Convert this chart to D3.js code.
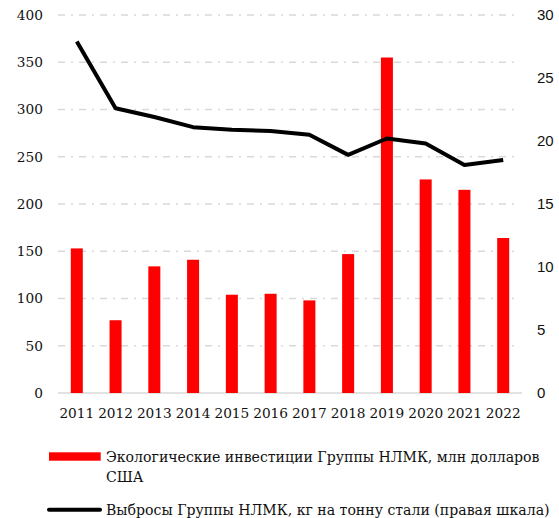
<!DOCTYPE html>
<html>
<head>
<meta charset="utf-8">
<script src="https://cdn.jsdelivr.net/npm/d3@7"></script>
<style>
  body { margin: 0; background: #fff; }
  svg { display: block; }
</style>
</head>
<body>
<svg id="chart"></svg>
<script>
const years = ['2011', '2012', '2013', '2014', '2015', '2016', '2017', '2018', '2019', '2020', '2021', '2022'];
const investments = [153, 77, 134, 141, 104, 105, 98, 147, 355, 226, 215, 164];
const emissions = [27.9, 22.6, 21.9, 21.1, 20.9, 20.8, 20.5, 18.9, 20.2, 19.8, 18.1, 18.5];
const leftTicks = [0, 50, 100, 150, 200, 250, 300, 350, 400];
const rightTicks = [0, 5, 10, 15, 20, 25, 30];
const barLabel = ['Экологические инвестиции Группы НЛМК, млн долларов', 'США'];
const lineLabel = 'Выбросы Группы НЛМК, кг на тонну стали (правая шкала)';

const chart_width = 559, chart_height = 518;
const plotLeft = 58, plotRight = 522, plotTop = 15, plotBottom = 393;
const textColor = '#111';

const svg = d3.select('#chart')
    .attr('width', chart_width)
    .attr('height', chart_height);

const x = d3.scaleBand()
    .domain(years)
    .range([plotLeft, plotRight])
    .paddingInner(0.69)
    .paddingOuter(0.33);

const yLeft = d3.scaleLinear().domain([0, 400]).range([plotBottom, plotTop]);
const yRight = d3.scaleLinear().domain([0, 30]).range([plotBottom, plotTop]);

// grid
svg.append('g')
    .selectAll('line')
    .data(leftTicks.filter(d => d > 0))
    .enter()
    .append('line')
    .attr('x1', plotLeft)
    .attr('x2', plotRight - 6)
    .attr('y1', d => yLeft(d))
    .attr('y2', d => yLeft(d))
    .attr('stroke', '#d9d9d9')
    .attr('stroke-width', 1.5)
    .attr('stroke-dasharray', '7,6,2,6');

svg.append('line')
    .attr('x1', plotLeft)
    .attr('x2', plotRight)
    .attr('y1', yLeft(0))
    .attr('y2', yLeft(0))
    .attr('stroke', '#d9d9d9')
    .attr('stroke-width', 1.5);

// bars
svg.append('g')
    .selectAll('rect')
    .data(investments)
    .enter()
    .append('rect')
    .attr('x', (d, i) => x(years[i]))
    .attr('y', d => yLeft(d))
    .attr('width', x.bandwidth())
    .attr('height', d => yLeft(0) - yLeft(d))
    .attr('fill', '#ff0000');

// line
const lineFunc = d3.line()
    .x((d, i) => x(years[i]) + x.bandwidth() / 2)
    .y(d => yRight(d));

svg.append('path')
    .attr('d', lineFunc(emissions))
    .attr('fill', 'none')
    .attr('stroke', '#000')
    .attr('stroke-width', 4)
    .attr('stroke-linejoin', 'round');

// axes
const axisLeft = svg.append('g')
    .attr('transform', 'translate(' + plotLeft + ',0)')
    .call(d3.axisLeft(yLeft).tickValues(leftTicks).tickSize(0).tickPadding(15));

const axisRight = svg.append('g')
    .attr('transform', 'translate(' + plotRight + ',0)')
    .call(d3.axisRight(yRight).tickValues(rightTicks).tickSize(0).tickPadding(15));

const axisBottom = svg.append('g')
    .attr('transform', 'translate(0,' + plotBottom + ')')
    .call(d3.axisBottom(x).tickSize(0).tickPadding(15));

[axisLeft, axisRight, axisBottom].forEach(a => a.select('.domain').remove());

axisLeft.selectAll('text')
    .attr('font-family', 'DejaVu Serif')
    .attr('font-size', '13.7px')
    .attr('fill', textColor);
axisBottom.selectAll('text')
    .attr('font-family', 'DejaVu Serif')
    .attr('font-size', '13.7px')
    .attr('fill', textColor);
axisRight.selectAll('text')
    .attr('font-family', 'Liberation Sans')
    .attr('font-size', '15px')
    .attr('fill', textColor);

// legend
const legend = svg.append('g');

legend.append('rect')
    .attr('x', 49)
    .attr('y', 452.3)
    .attr('width', 51.7)
    .attr('height', 8.4)
    .attr('fill', '#ff0000');

legend.selectAll('.bar-label')
    .data(barLabel)
    .enter()
    .append('text')
    .attr('class', 'bar-label')
    .attr('x', 106)
    .attr('y', (d, i) => 456.7 + i * 20)
    .attr('dy', '0.35em')
    .attr('font-family', 'DejaVu Serif')
    .attr('font-size', '14.1px')
    .attr('fill', textColor)
    .text(d => d);

legend.append('line')
    .attr('x1', 49)
    .attr('x2', 100)
    .attr('y1', 509.7)
    .attr('y2', 509.7)
    .attr('stroke', '#000')
    .attr('stroke-width', 4)
    .attr('stroke-linecap', 'round');

legend.append('text')
    .attr('x', 106)
    .attr('y', 510)
    .attr('dy', '0.35em')
    .attr('font-family', 'DejaVu Serif')
    .attr('font-size', '14.1px')
    .attr('fill', textColor)
    .text(lineLabel);
</script>
</body>
</html>
